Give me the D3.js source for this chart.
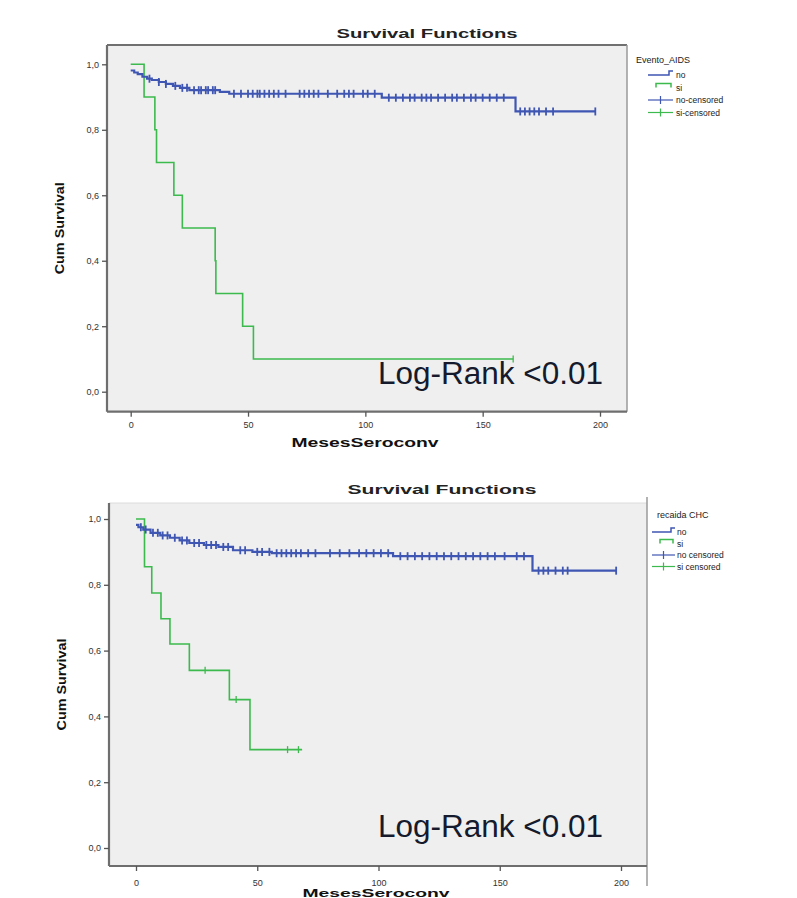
<!DOCTYPE html>
<html><head><meta charset="utf-8">
<script src="https://cdn.jsdelivr.net/npm/d3@7"></script>
<style>body{margin:0;background:#fff}svg{display:block}text{font-family:Arial,"Liberation Sans",sans-serif}</style>
</head><body>
<svg id="c" width="797" height="898"></svg>
<script>
// ---------- data ----------
const xTickValues = [0, 50, 100, 150, 200];
const yTickValues = [0, 0.2, 0.4, 0.6, 0.8, 1.0];
const yTickLabels = ["0,0", "0,2", "0,4", "0,6", "0,8", "1,0"];
const chartTitle = "Survival Functions";
const xTitle = "MesesSeroconv";
const yTitle = "Cum Survival";
const pValueText = "Log-Rank <0.01";

// panel 1
const legendTitle1 = "Evento_AIDS";
const legendLabels1 = ["no", "si", "no-censored", "si-censored"];
const blue1Times = [0, 1.5, 3, 5, 7, 9, 12, 15, 18, 21, 25, 38, 42, 107, 164];
const blue1Surv  = [0.981, 0.975, 0.970, 0.962, 0.956, 0.952, 0.946, 0.940, 0.934, 0.928, 0.921, 0.916, 0.910, 0.898, 0.856];
const blue1End = 198;
const blue1Censor = [8, 12, 15, 19, 22, 24, 27, 29, 30, 32, 33, 35, 36, 44, 47, 50, 52, 54, 55, 57, 59, 61, 63, 66, 72, 74, 76, 78, 80, 84, 88, 91, 93, 95, 99, 101, 104, 110, 113, 116, 119, 121, 124, 126, 128, 131, 134, 137, 139, 142, 145, 147, 150, 153, 156, 159, 166, 168, 170, 172, 174, 177, 180, 198];
const green1Times = [0, 5.7, 10.3, 11, 18.4, 22, 36, 36.3, 47.7, 52.3];
const green1Surv  = [1.0, 0.9, 0.8, 0.7, 0.6, 0.5, 0.4, 0.3, 0.2, 0.1];
const green1End = 163;
const green1Censor = [163];

// panel 2
const legendTitle2 = "recaida CHC";
const legendLabels2 = ["no", "si", "no censored", "si censored"];
const blue2Times = [0, 1, 3, 6, 10, 14, 18, 22, 28, 34, 40, 48, 56, 106, 163.5];
const blue2Surv  = [0.982, 0.975, 0.968, 0.958, 0.950, 0.943, 0.935, 0.927, 0.921, 0.915, 0.905, 0.900, 0.896, 0.887, 0.843];
const blue2End = 198;
const blue2Censor = [2, 4, 7, 9, 11, 13, 16, 19, 21, 24, 26, 29, 31, 33, 36, 38, 43, 45, 50, 52, 55, 58, 60, 62, 64, 66, 68, 71, 74, 80, 84, 88, 92, 95, 98, 101, 104, 109, 112, 115, 118, 121, 124, 127, 130, 133, 136, 139, 142, 145, 148, 152, 157, 160, 166, 168, 170, 173, 176, 178, 198];
const green2Times = [0, 3.5, 6.5, 10.3, 14, 22, 38.5, 47];
const green2Surv  = [1.0, 0.855, 0.775, 0.697, 0.62, 0.54, 0.451, 0.299];
const green2End = 68.5;
const green2Censor = [28.5, 41.3, 62.5, 67];

// ---------- drawing ----------
const BLUE = "#3f56b3", GREEN = "#3dba4e";
const svg = d3.select("#c");

function stepData(times, surv, end) {
  const d = times.map((t, i) => ({t, s: surv[i]}));
  d.push({t: end, s: surv[surv.length - 1]});
  return d;
}
function survAt(times, surv, t) {
  let s = surv[0];
  for (let i = 0; i < times.length; i++) if (times[i] <= t) s = surv[i];
  return s;
}

function panel(cfg) {
  const g = svg.append("g");
  const x = d3.scaleLinear().domain([0, 200]).range([cfg.x0, cfg.x200]);
  const y = d3.scaleLinear().domain([0, 1]).range([cfg.y0, cfg.y1]);
  g.append("rect").attr("x", cfg.left).attr("y", cfg.top)
    .attr("width", cfg.right - cfg.left).attr("height", cfg.bottom - cfg.top)
    .attr("fill", "#efefef");
  g.append("line").attr("x1", cfg.left).attr("x2", cfg.right).attr("y1", cfg.top).attr("y2", cfg.top)
    .attr("stroke", cfg.topColor).attr("stroke-width", cfg.topWidth);
  g.append("line").attr("x1", cfg.right).attr("x2", cfg.right).attr("y1", cfg.top - cfg.rightExtTop).attr("y2", cfg.bottom + cfg.rightExtBottom)
    .attr("stroke", "#9a9a9a").attr("stroke-width", 1.5);

  const yAxis = d3.axisLeft(y).tickValues(yTickValues).tickSize(5).tickPadding(3)
    .tickFormat((d, i) => yTickLabels[i]);
  const ya = g.append("g").attr("transform", `translate(${cfg.left},0)`).call(yAxis);
  const xAxis = d3.axisBottom(x).tickValues(xTickValues).tickSize(5).tickPadding(cfg.xPad);
  const xa = g.append("g").attr("transform", `translate(0,${cfg.bottom})`).call(xAxis);
  [ya, xa].forEach(a => {
    a.select(".domain").attr("stroke", "#6e6e6e").attr("stroke-width", 2.2);
    a.selectAll(".tick line").attr("stroke", "#555").attr("stroke-width", 1.3);
    a.selectAll(".tick text").attr("font-size", 9).attr("fill", "#333");
  });
  xa.select(".domain").attr("d", `M${cfg.left},0H${cfg.right}`);
  ya.select(".domain").attr("d", `M0,${cfg.top}V${cfg.bottom}`);

  g.append("text").attr("x", cfg.titleX).attr("y", cfg.titleY).attr("text-anchor", "middle")
    .attr("font-size", 13).attr("font-weight", "bold").attr("fill", "#222")
    .attr("textLength", cfg.titleLen).attr("lengthAdjust", "spacingAndGlyphs").text(chartTitle);
  g.append("text").attr("x", (cfg.left + cfg.right) / 2 - 2).attr("y", cfg.xTitleY).attr("text-anchor", "middle")
    .attr("font-size", cfg.xTitleSize).attr("font-weight", "bold").attr("fill", "#111")
    .attr("textLength", 147).attr("lengthAdjust", "spacingAndGlyphs").text(xTitle);
  g.append("text").attr("transform", `translate(${cfg.yTitleX},${(cfg.top + cfg.bottom) / 2}) rotate(-90)`)
    .attr("text-anchor", "middle").attr("font-size", 12).attr("font-weight", "bold").attr("fill", "#111")
    .attr("textLength", 92).attr("lengthAdjust", "spacingAndGlyphs").text(yTitle);

  const line = d3.line().x(d => x(d.t)).y(d => y(d.s)).curve(d3.curveStepAfter);
  g.append("path").datum(stepData(cfg.gT, cfg.gS, cfg.gEnd)).attr("d", line)
    .attr("fill", "none").attr("stroke", GREEN).attr("stroke-width", 1.6);
  g.selectAll(".gc").data(cfg.gC).enter().append("line")
    .attr("x1", d => x(d)).attr("x2", d => x(d))
    .attr("y1", d => y(survAt(cfg.gT, cfg.gS, d)) - 3.5).attr("y2", d => y(survAt(cfg.gT, cfg.gS, d)) + 3.5)
    .attr("stroke", GREEN).attr("stroke-width", 1.3);
  g.append("path").datum(stepData(cfg.bT, cfg.bS, cfg.bEnd)).attr("d", line)
    .attr("fill", "none").attr("stroke", BLUE).attr("stroke-width", 2.2);
  g.selectAll(".bc").data(cfg.bC).enter().append("line")
    .attr("x1", d => x(d)).attr("x2", d => x(d))
    .attr("y1", d => y(survAt(cfg.bT, cfg.bS, d)) - 4).attr("y2", d => y(survAt(cfg.bT, cfg.bS, d)) + 4)
    .attr("stroke", BLUE).attr("stroke-width", 1.8);

  g.append("text").attr("x", 378).attr("y", cfg.pY).attr("font-size", 31).attr("fill", "#151a2c")
    .attr("textLength", 225).attr("lengthAdjust", "spacingAndGlyphs").text(pValueText);

  const L = g.append("g").attr("transform", `translate(${cfg.legX},${cfg.legY})`);
  L.append("text").attr("x", 0).attr("y", 0).attr("font-size", 9).attr("fill", "#222").text(cfg.legTitle);
  cfg.legLabels.forEach((lab, i) => {
    const yy = cfg.legRow0 + i * cfg.legStep;
    const col = i % 2 === 0 ? BLUE : GREEN;
    const sx0 = cfg.legSym0, sx1 = cfg.legSym1;
    if (i < 2) {
      L.append("path").attr("d", i === 0
          ? `M${sx0},${yy}H${sx1 - 4}V${yy - 4}H${sx1}`
          : `M${sx0 + 8},${yy}V${yy - 4}H${sx1 - 2}V${yy}`)
        .attr("fill", "none").attr("stroke", col).attr("stroke-width", 1.5);
    } else {
      L.append("line").attr("x1", sx0).attr("x2", sx1).attr("y1", yy).attr("y2", yy).attr("stroke", col).attr("stroke-width", 1.2);
      L.append("line").attr("x1", (sx0 + sx1) / 2).attr("x2", (sx0 + sx1) / 2).attr("y1", yy - 4).attr("y2", yy + 4).attr("stroke", col).attr("stroke-width", 1.2);
    }
    L.append("text").attr("x", cfg.legText).attr("y", yy + 3).attr("font-size", 8.5).attr("fill", "#222").text(lab);
  });
}

panel({
  left: 107, right: 627, top: 45, bottom: 411.7,
  x0: 130.7, x200: 600, y0: 391.7, y1: 64.3,
  topColor: "#707070", topWidth: 2.2, rightExtTop: 0, rightExtBottom: 0,
  titleX: 427, titleY: 38, titleLen: 181,
  xTitleY: 447, xTitleSize: 12, yTitleX: 64, xPad: 5,
  gT: green1Times, gS: green1Surv, gEnd: green1End, gC: green1Censor,
  bT: blue1Times, bS: blue1Surv, bEnd: blue1End, bC: blue1Censor,
  pY: 384,
  legX: 636, legY: 63, legTitle: legendTitle1, legLabels: legendLabels1,
  legRow0: 12, legStep: 12.5, legSym0: 12, legSym1: 37, legText: 40
});

panel({
  left: 109, right: 647, top: 503, bottom: 866,
  x0: 136, x200: 621, y0: 848, y1: 519,
  topColor: "#dcdcdc", topWidth: 1, rightExtTop: 6, rightExtBottom: 20,
  titleX: 442, titleY: 494, titleLen: 189,
  xTitleY: 897, xTitleSize: 10.5, yTitleX: 66, xPad: 9,
  gT: green2Times, gS: green2Surv, gEnd: green2End, gC: green2Censor,
  bT: blue2Times, bS: blue2Surv, bEnd: blue2End, bC: blue2Censor,
  pY: 837,
  legX: 657, legY: 518, legTitle: legendTitle2, legLabels: legendLabels2,
  legRow0: 14, legStep: 11.5, legSym0: -5, legSym1: 18, legText: 20
});
</script>
</body></html>
